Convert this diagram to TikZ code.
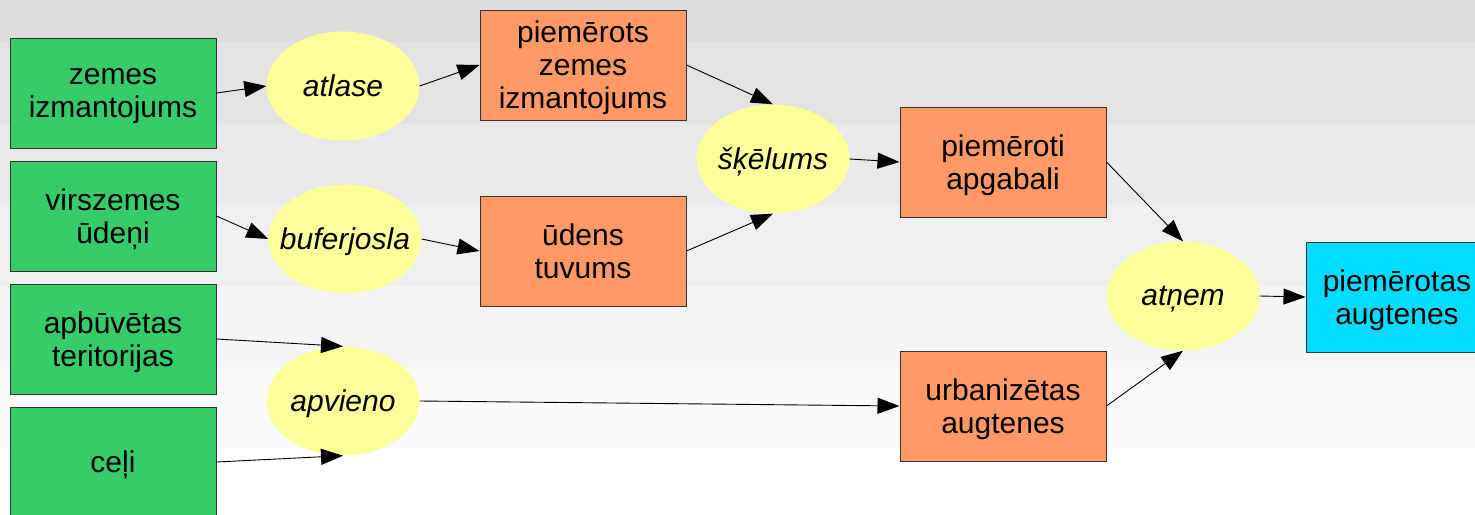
\documentclass[tikz,border=0pt]{standalone}
\usepackage{fontspec}
\setmainfont{Liberation Sans}
\usetikzlibrary{shapes.geometric,arrows.meta}
\definecolor{bgA}{HTML}{DDDDDD}
\definecolor{bgB}{HTML}{E3E3E3}
\definecolor{bgC}{HTML}{E9E9E9}
\definecolor{bgD}{HTML}{EFEFEF}
\definecolor{bgE}{HTML}{F5F5F5}
\definecolor{bgF}{HTML}{FAFAFA}
\definecolor{ingreen}{HTML}{36CC6A}
\definecolor{midorange}{HTML}{FF9966}
\definecolor{opyellow}{HTML}{FFFF99}
\definecolor{outcyan}{HTML}{00DDFF}
\definecolor{edgegray}{HTML}{333333}
\tikzset{
  databox/.style={rectangle, draw=edgegray, line width=1pt, minimum width=206pt, minimum height=110pt, inner sep=0pt, text depth=0pt, align=center, font=\fontsize{30}{33}\selectfont},
  inbox/.style={databox, fill=ingreen},
  midbox/.style={databox, fill=midorange},
  outbox/.style={databox, fill=outcyan, minimum width=182pt},
  opnode/.style={ellipse, fill=opyellow, minimum width=153pt, minimum height=109pt, inner xsep=-18pt, inner ysep=0pt, text depth=0pt, font=\fontsize{30}{33}\selectfont\itshape},
  flow/.style={draw=black, line width=0.9pt, -{Triangle[length=22pt,width=16pt]}}
}
\begin{document}
\begin{tikzpicture}[x=1pt,y=-1pt]
\useasboundingbox (0,0) rectangle (1475,514);
% background bands
\fill[bgA] (0,0) rectangle (1475,42);
\fill[bgB] (0,42) rectangle (1475,124);
\fill[bgC] (0,124) rectangle (1475,205);
\fill[bgD] (0,205) rectangle (1475,286);
\fill[bgE] (0,286) rectangle (1475,367);
\fill[bgF] (0,367) rectangle (1475,448);
\fill[white] (0,448) rectangle (1475,514);
% input nodes
\node[inbox] (zemes) at (113,93) {zemes\\izmantojums};
\node[inbox] (virsz) at (113,216) {virszemes\\ūdeņi};
\node[inbox] (apbuv) at (113,339) {apbūvētas\\teritorijas};
\node[inbox] (celi) at (113,462) {ceļi};
% operations
\node[opnode] (atlase) at (343,86) {atlase};
\node[opnode] (bufer) at (345,239) {buferjosla};
\node[opnode] (apvieno) at (343,401) {apvieno};
\node[opnode] (skel) at (773,159) {šķēlums};
\node[opnode] (atnem) at (1183,296) {atņem};
% intermediate
\node[midbox] (piemz) at (583,65) {piemērots\\zemes\\izmantojums};
\node[midbox] (udens) at (583,251) {ūdens\\tuvums};
\node[midbox] (piemap) at (1003,162) {piemēroti\\apgabali};
\node[midbox] (urban) at (1003,406) {urbanizētas\\augtenes};
% output
\node[outbox] (augt) at (1397,297) {piemērotas\\augtenes};
% connectors
\draw[flow] (zemes.east) -- (atlase.west);
\draw[flow] (atlase.east) -- (piemz.west);
\draw[flow] (virsz.east) -- (bufer.west);
\draw[flow] (bufer.east) -- (udens.west);
\draw[flow] (apbuv.east) -- (apvieno.north);
\draw[flow] (celi.east) -- (apvieno.south);
\draw[flow] (apvieno.east) -- (urban.west);
\draw[flow] (piemz.east) -- (skel.north);
\draw[flow] (udens.east) -- (skel.south);
\draw[flow] (skel.east) -- (piemap.west);
\draw[flow] (piemap.east) -- (atnem.north);
\draw[flow] (urban.east) -- (atnem.south);
\draw[flow] (atnem.east) -- (augt.west);
\end{tikzpicture}
\end{document}
